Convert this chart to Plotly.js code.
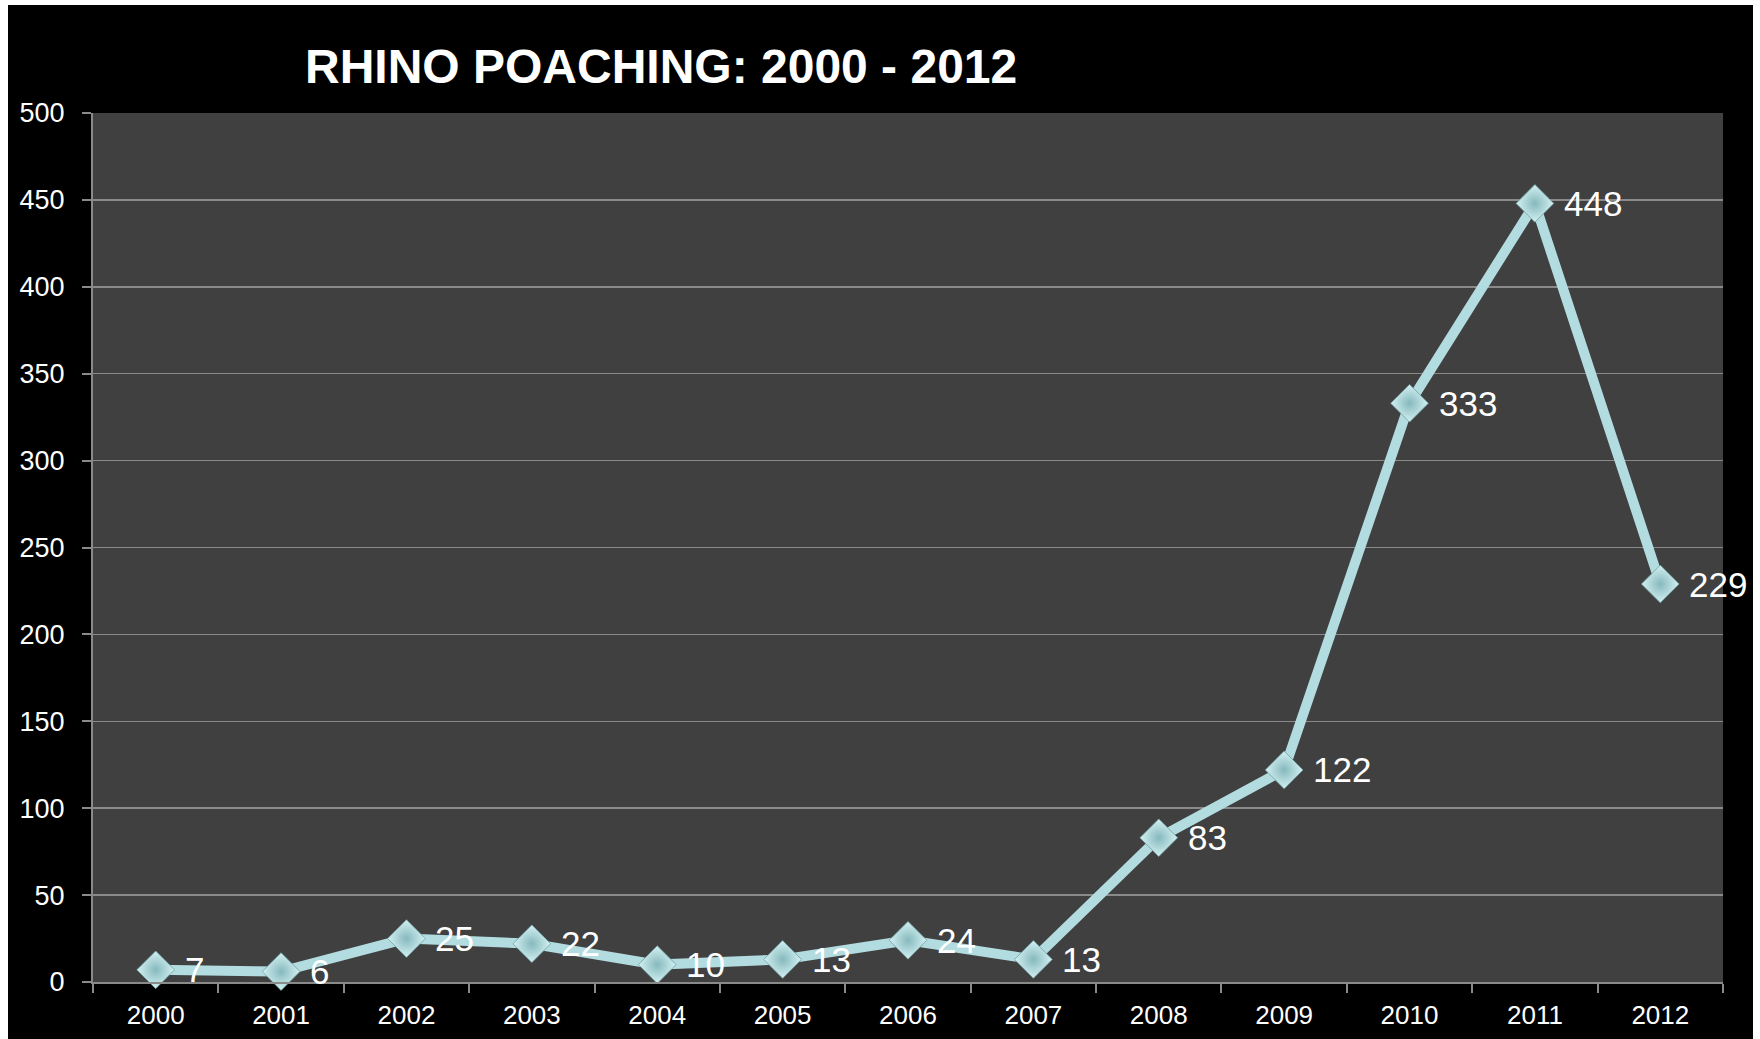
<!DOCTYPE html>
<html>
<head>
<meta charset="utf-8">
<script src="https://cdn.plot.ly/plotly-3.0.1.min.js"></script>
<style>
  html, body { margin: 0; padding: 0; background: #ffffff; width: 1760px; height: 1039px; overflow: hidden; }
  #chart { position: absolute; left: 8px; top: 5px; width: 1745px; height: 1034px; }
</style>
</head>
<body>
<div id="chart"></div>
<script>
// ---- data ----
const years = ["2000","2001","2002","2003","2004","2005","2006","2007","2008","2009","2010","2011","2012"];
const poached = [7, 6, 25, 22, 10, 13, 24, 13, 83, 122, 333, 448, 229];
const yTicks = [0, 50, 100, 150, 200, 250, 300, 350, 400, 450, 500];
const chartTitle = "RHINO POACHING: 2000 - 2012";

const FONT = '"Liberation Sans", Arial, Helvetica, sans-serif';

const trace = {
  type: 'scatter',
  mode: 'lines+markers',
  x: years,
  y: poached,
  line: { color: '#b2dcdf', width: 10 },
  marker: {
    symbol: 'diamond',
    size: 29,
    color: '#d4f1f3',
    gradient: { type: 'radial', color: '#86b9bd' },
    line: { color: '#6f9ea2', width: 0.8 }
  },
  cliponaxis: false,
  hoverinfo: 'x+y'
};

// data labels: category axis positions use the category index
const annotations = years.map((yr, i) => ({
  x: i,
  y: poached[i],
  xref: 'x', yref: 'y',
  text: String(poached[i]),
  showarrow: false,
  xanchor: 'left',
  yanchor: 'middle',
  xshift: 27,
  font: { family: FONT, size: 35, color: '#ffffff' }
}));

const layout = {
  width: 1745,
  height: 1034,
  paper_bgcolor: '#000000',
  plot_bgcolor: '#404040',
  margin: { l: 85, r: 30, t: 108, b: 57, pad: 0 },
  showlegend: false,
  font: { family: FONT, color: '#ffffff', size: 26 },
  title: {
    text: '<b>' + chartTitle + '</b>',
    xref: 'container', yref: 'container',
    x: 297 / 1745, xanchor: 'left',
    y: 1 - 61 / 1034, yanchor: 'middle',
    font: { family: FONT, size: 48, color: '#ffffff' }
  },
  xaxis: {
    type: 'category',
    tickmode: 'array',
    tickvals: years,
    ticktext: years,
    tickson: 'boundaries',
    ticks: 'outside',
    ticklen: 9,
    tickwidth: 2,
    tickcolor: '#8a8a8a',
    showline: true,
    linecolor: '#8a8a8a',
    linewidth: 2,
    showgrid: false,
    zeroline: false,
    tickfont: { family: FONT, size: 26, color: '#ffffff' },
    ticklabelstandoff: 9,
    range: [-0.5, years.length - 0.5]
  },
  yaxis: {
    range: [0, 500],
    tickmode: 'array',
    tickvals: yTicks,
    ticktext: yTicks.map(String),
    ticks: 'outside',
    ticklen: 9,
    tickwidth: 2,
    tickcolor: '#8a8a8a',
    showline: true,
    linecolor: '#8a8a8a',
    linewidth: 2,
    showgrid: true,
    gridcolor: '#8a8a8a',
    gridwidth: 1.5,
    zeroline: false,
    tickfont: { family: FONT, size: 27, color: '#ffffff' },
    ticklabelstandoff: 12
  },
  annotations: annotations
};

Plotly.newPlot('chart', [trace], layout, { displayModeBar: false, staticPlot: true });
</script>
</body>
</html>
